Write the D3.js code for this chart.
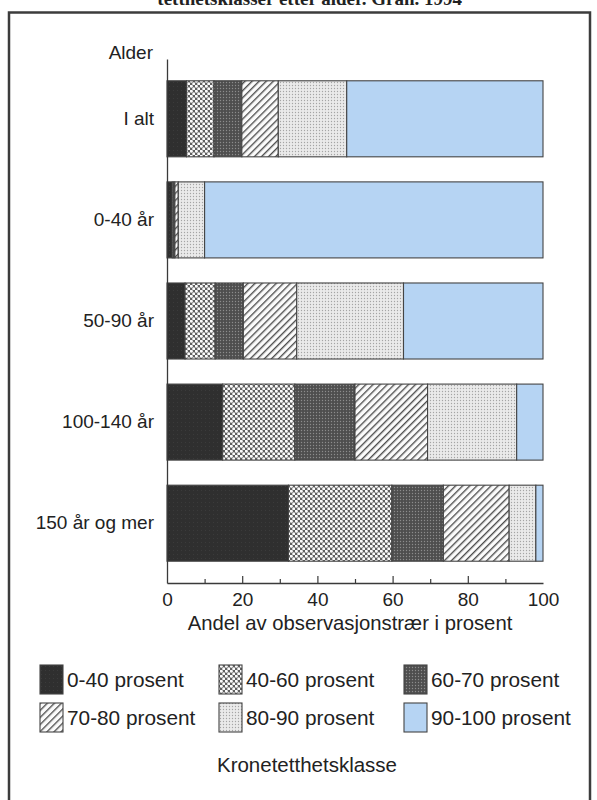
<!DOCTYPE html>
<html>
<head>
<meta charset="utf-8">
<script src="https://cdn.jsdelivr.net/npm/d3@7"></script>
<style>
  html, body { margin: 0; padding: 0; background: #fff; }
  svg { display: block; }
  text { font-family: "Liberation Sans", Arial, Helvetica, sans-serif; fill: #222; }
</style>
</head>
<body>
<svg id="chart" width="597" height="800"></svg>
<script>
// Age groups (rows) and crown density classes (stacked segments)
const categories = ["I alt", "0-40 år", "50-90 år", "100-140 år", "150 år og mer"];
const classes = ["0-40 prosent", "40-60 prosent", "60-70 prosent", "70-80 prosent", "80-90 prosent", "90-100 prosent"];

// Share of observation trees (%) in each density class, per age group
const s0_40   = [5.2, 1.4, 4.8, 14.8, 32.3];
const s40_60  = [7.3, 0.4, 8.0, 19.2, 27.5];
const s60_70  = [7.4, 0.3, 7.5, 16.0, 13.7];
const s70_80  = [9.7, 0.9, 14.2, 19.3, 17.5];
const s80_90  = [18.2, 7.0, 28.4, 23.7, 7.1];
const s90_100 = [52.2, 90.0, 37.1, 7.0, 1.9];

const xTicks = [0, 20, 40, 60, 80, 100];
const xMinorTicks = [10, 30, 50, 70, 90];

const seriesValues = [s0_40, s40_60, s60_70, s70_80, s80_90, s90_100];
const rows = categories.map((c, i) => {
  const r = { age: c };
  classes.forEach((k, j) => { r[k] = seriesValues[j][i]; });
  return r;
});

const svg = d3.select("#chart");
const defs = svg.append("defs");

// Fill patterns, one per density class
const fills = ["url(#p0)", "url(#p1)", "url(#p2)", "url(#p3)", "url(#p4)", "#b6d4f3"];

// 0-40: near black
const p0 = defs.append("pattern").attr("id", "p0").attr("patternUnits", "userSpaceOnUse")
  .attr("width", 4).attr("height", 4);
p0.append("rect").attr("width", 4).attr("height", 4).attr("fill", "#2f2f2f");
p0.append("rect").attr("x", 1).attr("y", 2).attr("width", 1).attr("height", 1).attr("fill", "#3b3b3b");

// 40-60: white dots in a dark diagonal lattice
const p1 = defs.append("pattern").attr("id", "p1").attr("patternUnits", "userSpaceOnUse")
  .attr("width", 5).attr("height", 5);
p1.append("rect").attr("width", 5).attr("height", 5).attr("fill", "#606060");
p1.append("circle").attr("cx", 1.25).attr("cy", 1.25).attr("r", 1.55).attr("fill", "#fcfcfc");
p1.append("circle").attr("cx", 3.75).attr("cy", 3.75).attr("r", 1.55).attr("fill", "#fcfcfc");

// 60-70: dark grey fine dots
const p2 = defs.append("pattern").attr("id", "p2").attr("patternUnits", "userSpaceOnUse")
  .attr("width", 3).attr("height", 3);
p2.append("rect").attr("width", 3).attr("height", 3).attr("fill", "#4e4e4e");
p2.append("circle").attr("cx", 1.5).attr("cy", 1.5).attr("r", 0.7).attr("fill", "#8c8c8c");

// 70-80: diagonal hatching
const p3 = defs.append("pattern").attr("id", "p3").attr("patternUnits", "userSpaceOnUse")
  .attr("width", 5).attr("height", 5).attr("patternTransform", "rotate(45)");
p3.append("rect").attr("width", 5).attr("height", 5).attr("fill", "#fbfbfb");
p3.append("line").attr("x1", 0.7).attr("y1", 0).attr("x2", 0.7).attr("y2", 5)
  .attr("stroke", "#444").attr("stroke-width", 1.3);

// 80-90: light grey fine dots
const p4 = defs.append("pattern").attr("id", "p4").attr("patternUnits", "userSpaceOnUse")
  .attr("width", 3).attr("height", 3);
p4.append("rect").attr("width", 3).attr("height", 3).attr("fill", "#eaeaea");
p4.append("circle").attr("cx", 1.5).attr("cy", 1.5).attr("r", 0.65).attr("fill", "#a5a5a5");

// Heading (runs off the top edge) and surrounding frame
svg.append("text")
  .attr("x", 462).attr("y", 5)
  .attr("text-anchor", "end")
  .style("font-family", "'Liberation Serif', 'DejaVu Serif', serif")
  .style("font-weight", "bold")
  .style("font-size", "19px")
  .text("tetthetsklasser etter alder. Gran. 1994");

svg.append("path")
  .attr("d", "M9,805 V12.5 H590 V805")
  .attr("fill", "none").attr("stroke", "#3c3c3c").attr("stroke-width", 2.5);

// Scales
const x = d3.scaleLinear().domain([0, 100]).range([167, 543]);
const y = d3.scaleBand().domain(categories).range([59, 583])
  .paddingInner(0.248).paddingOuter(0.2155);

const stack = d3.stack().keys(classes);
const stacked = stack(rows);

// Stacked bars
const g = svg.append("g");
g.selectAll("g.series")
  .data(stacked)
  .join("g")
  .attr("class", "series")
  .attr("fill", (d, i) => fills[i])
  .selectAll("rect")
  .data(d => d)
  .join("rect")
  .attr("x", d => x(d[0]))
  .attr("y", d => y(d.data.age))
  .attr("width", d => x(d[1]) - x(d[0]))
  .attr("height", y.bandwidth())
  .attr("stroke", "#444")
  .attr("stroke-width", 1.1);

// Y axis
const yAxis = svg.append("g")
  .attr("transform", `translate(${x(0)},0)`)
  .call(d3.axisLeft(y).tickSize(0).tickSizeOuter(0).tickPadding(13));
yAxis.select(".domain").attr("stroke", "#3a3a3a").attr("stroke-width", 1.3);
yAxis.selectAll("text").style("font-size", "19px").attr("fill", "#222");

svg.append("text")
  .attr("x", 153).attr("y", 59)
  .attr("text-anchor", "end")
  .style("font-size", "19px")
  .text("Alder");

// X axis: labelled ticks every 20, short minor ticks every 10 (pointing inward)
const xAxis = svg.append("g")
  .attr("transform", "translate(0,583)")
  .call(d3.axisBottom(x).tickValues(xTicks).tickSize(-7).tickSizeOuter(0).tickPadding(10));
xAxis.select(".domain").attr("stroke", "#3a3a3a").attr("stroke-width", 1.3);
xAxis.selectAll(".tick line").attr("stroke", "#3a3a3a").attr("stroke-width", 1.2);
xAxis.selectAll("text").style("font-size", "19px").attr("fill", "#222");
xAxis.selectAll(".tick").filter(d => d === 0 || d === 100).select("line").remove();

const xMinor = svg.append("g")
  .attr("transform", "translate(0,583)")
  .call(d3.axisBottom(x).tickValues(xMinorTicks).tickSize(-4).tickFormat(""));
xMinor.select(".domain").remove();
xMinor.selectAll(".tick line").attr("stroke", "#3a3a3a").attr("stroke-width", 1.2);

svg.append("text")
  .attr("x", 350).attr("y", 630)
  .attr("text-anchor", "middle")
  .style("font-size", "20.3px")
  .text("Andel av observasjonstrær i prosent");

// Legend: three columns, two rows
const legendCols = [40, 219, 404];
const legendRows = [665, 703];
const legend = svg.append("g");
classes.forEach((k, i) => {
  const cx = legendCols[i % 3];
  const cy = legendRows[Math.floor(i / 3)];
  legend.append("rect")
    .attr("x", cx).attr("y", cy)
    .attr("width", 23).attr("height", 29)
    .attr("fill", fills[i])
    .attr("stroke", "#444").attr("stroke-width", 1.1);
  legend.append("text")
    .attr("x", cx + 27).attr("y", cy + 15)
    .attr("dy", "0.35em")
    .style("font-size", "20.8px")
    .text(k);
});

svg.append("text")
  .attr("x", 307).attr("y", 765)
  .attr("dy", "0.35em")
  .attr("text-anchor", "middle")
  .style("font-size", "20.5px")
  .text("Kronetetthetsklasse");
</script>
</body>
</html>
